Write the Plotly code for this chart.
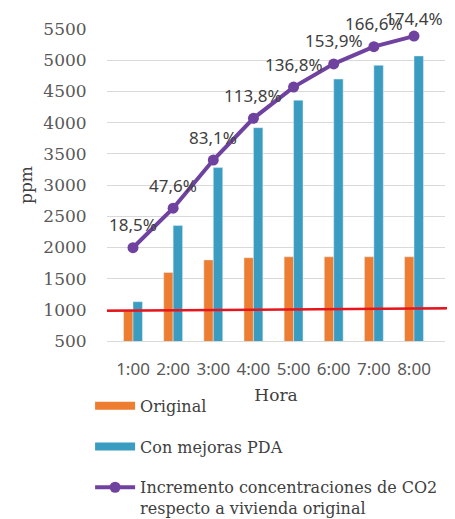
import plotly.graph_objects as go

# ---- data ----
horas = ["1:00", "2:00", "3:00", "4:00", "5:00", "6:00", "7:00", "8:00"]
original = [980, 1600, 1800, 1835, 1850, 1850, 1850, 1850]
con_mejoras = [1130, 2350, 3280, 3920, 4360, 4700, 4920, 5070]
incremento_pct = [18.5, 47.6, 83.1, 113.8, 136.8, 153.9, 166.6, 174.4]
limite_ppm = [985, 1025]
y_ticks = [500, 1000, 1500, 2000, 2500, 3000, 3500, 4000, 4500, 5000, 5500]

pct_labels = [f"{v:.1f}%".replace(".", ",") for v in incremento_pct]

ORANGE = "#ED7D31"
BLUE = "#3A9CC0"
PURPLE = "#7042A0"
SERIF = "DejaVu Serif"
SANS = "Noto Sans"

fig = go.Figure()
fig.add_trace(go.Bar(x=horas, y=original, name="Original", marker_color=ORANGE,
                     showlegend=False))
fig.add_trace(go.Bar(x=horas, y=con_mejoras, name="Con mejoras PDA", marker_color=BLUE,
                     showlegend=False))
# legend entries (wide swatches, as in the original)
fig.add_trace(go.Scatter(x=[None], y=[None], mode="lines", name="Original",
                         line=dict(color=ORANGE, width=8), legendgroup="a"))
fig.add_trace(go.Scatter(x=[None], y=[None], mode="lines", name="Con mejoras PDA",
                         line=dict(color=BLUE, width=8), legendgroup="b"))
fig.add_trace(go.Scatter(
    x=horas, y=incremento_pct, yaxis="y2", mode="lines+markers",
    name="Incremento concentraciones de CO2<br>respecto a vivienda original",
    line=dict(color=PURPLE, width=4), marker=dict(color=PURPLE, size=11),
    legendgroup="c", cliponaxis=False))

n = len(horas)
for i, (h, v, t) in enumerate(zip(horas, incremento_pct, pct_labels)):
    fig.add_annotation(x=h, y=v, xref="x", yref="y2", text=t, showarrow=False,
                       yshift=18 if i == n - 1 else 23,
                       font=dict(family=SANS, size=17, color="#404040"))

fig.add_shape(type="line", xref="paper", yref="y", x0=0, x1=1.008,
              y0=limite_ppm[0], y1=limite_ppm[1],
              line=dict(color="#E8141C", width=2.5), layer="above")

fig.update_layout(
    width=447, height=511,
    margin=dict(l=99, r=10, t=21, b=178, autoexpand=False),
    plot_bgcolor="white", paper_bgcolor="white",
    barmode="group", bargap=0.53, bargroupgap=0,
    showlegend=True,
    legend=dict(x=-0.05, y=-0.153, xanchor="left", yanchor="top",
                font=dict(family=SERIF, size=16, color="#404040"),
                traceorder="grouped", tracegroupgap=17, valign="top",
                itemwidth=40, bgcolor="rgba(0,0,0,0)"),
    xaxis=dict(
        title=dict(text="Hora", font=dict(family=SERIF, size=17, color="#404040"),
                   standoff=9),
        tickfont=dict(family=SANS, size=17, color="#595959"),
        showline=True, linecolor="#D9D9D9", linewidth=1,
        ticks="outside", ticklen=13, tickcolor="rgba(0,0,0,0)",
        showgrid=False, automargin=False),
    yaxis=dict(
        title=dict(text="ppm", font=dict(family=SERIF, size=17, color="#404040"),
                   standoff=6),
        range=[500, 5502], tickvals=y_ticks,
        tickfont=dict(family=SERIF, size=17, color="#595959"),
        showgrid=True, gridcolor="#D9D9D9", gridwidth=1,
        ticks="outside", ticklen=16, tickcolor="rgba(0,0,0,0)",
        zeroline=False, automargin=False),
    yaxis2=dict(overlaying="y", range=[-50.2, 179.6], visible=False),
)

fig.write_html("out.html")
